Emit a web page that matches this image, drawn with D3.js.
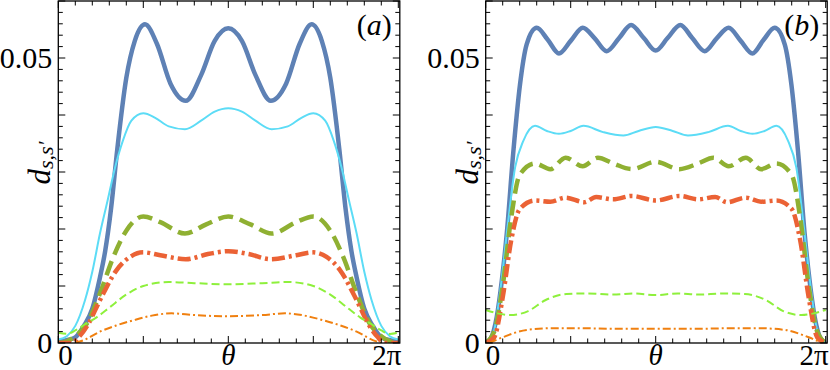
<!DOCTYPE html>
<html>
<head>
<meta charset="utf-8">
<script src="https://cdn.jsdelivr.net/npm/d3@7"></script>
<style>
body { margin: 0; background: #fff; }
</style>
</head>
<body>
<svg id="chart" width="830" height="370"></svg>
<script>
var PI = Math.PI;

// tick labels and panel tags
var yTickValues = [0, 0.05];
var yTickLabels = ['0', '0.05'];
var panelTags = ['a', 'b'];

// curves, points are [theta / pi, d]
var aBlue = [[0,0.0003],[0.05,0.0005],[0.1,0.001],[0.15,0.003],[0.2,0.006],[0.245,0.0115],[0.275,0.016],[0.31,0.0235],[0.347,0.034],[0.4,0.0465],[0.45,0.053],[0.51,0.0559],[0.58,0.0525],[0.66,0.0455],[0.75,0.0425],[0.84,0.047],[0.92,0.053],[1.0,0.0552],[1.08,0.053],[1.16,0.047],[1.25,0.0425],[1.34,0.0455],[1.42,0.0525],[1.49,0.0559],[1.55,0.053],[1.6,0.0465],[1.653,0.034],[1.69,0.0235],[1.725,0.016],[1.755,0.0115],[1.8,0.006],[1.85,0.003],[1.9,0.001],[1.95,0.0005],[2.0,0.0003]];
var aCyan = [[0,0.0006],[0.05,0.0012],[0.1,0.003],[0.157,0.0075],[0.2,0.0125],[0.245,0.0192],[0.29,0.025],[0.334,0.0308],[0.38,0.0355],[0.43,0.039],[0.5,0.0403],[0.57,0.0395],[0.65,0.038],[0.745,0.0375],[0.84,0.039],[0.92,0.0406],[1.0,0.0412],[1.08,0.0406],[1.16,0.039],[1.255,0.0375],[1.35,0.038],[1.43,0.0395],[1.5,0.0403],[1.57,0.039],[1.62,0.0355],[1.666,0.0308],[1.71,0.025],[1.755,0.0192],[1.8,0.0125],[1.843,0.0075],[1.9,0.003],[1.95,0.0012],[2.0,0.0006]];
var aOlive = [[0,0],[0.05,0.0003],[0.1,0.0012],[0.17,0.0035],[0.245,0.0087],[0.324,0.0151],[0.402,0.0198],[0.5,0.0222],[0.6,0.0212],[0.745,0.0192],[0.87,0.0208],[1.0,0.0222],[1.13,0.0208],[1.255,0.0192],[1.4,0.0212],[1.5,0.0222],[1.598,0.0198],[1.676,0.0151],[1.755,0.0087],[1.83,0.0035],[1.9,0.0012],[1.95,0.0003],[2.0,0]];
var aRed = [[0,0],[0.08,0],[0.12,0.001],[0.17,0.003],[0.245,0.0075],[0.343,0.0128],[0.422,0.0151],[0.5,0.0159],[0.6,0.0154],[0.75,0.0147],[0.88,0.0156],[1.0,0.0161],[1.12,0.0156],[1.25,0.0147],[1.4,0.0154],[1.5,0.0159],[1.578,0.0151],[1.657,0.0128],[1.755,0.0075],[1.83,0.003],[1.88,0.001],[1.92,0],[2.0,0]];
var aLgreen = [[0,0.0018],[0.05,0.0016],[0.1,0.0022],[0.147,0.0031],[0.225,0.0045],[0.304,0.0063],[0.4,0.0085],[0.5,0.01],[0.65,0.0107],[0.8,0.0105],[1.0,0.0103],[1.2,0.0105],[1.35,0.0107],[1.5,0.01],[1.6,0.0085],[1.696,0.0063],[1.775,0.0045],[1.853,0.0031],[1.9,0.0022],[1.95,0.0016],[2.0,0.0018]];
var aOrange = [[0.1,0],[0.15,0.0005],[0.245,0.002],[0.343,0.0031],[0.443,0.004],[0.55,0.0048],[0.667,0.0052],[0.8,0.0049],[1.0,0.0047],[1.2,0.0049],[1.333,0.0052],[1.45,0.0048],[1.557,0.004],[1.657,0.0031],[1.755,0.002],[1.85,0.0005],[1.9,0]];

var bBlue = [[0,0],[0.03,0.0008],[0.065,0.0046],[0.095,0.011],[0.124,0.0192],[0.163,0.0337],[0.202,0.0454],[0.241,0.0524],[0.3,0.0553],[0.365,0.0532],[0.431,0.0508],[0.5,0.053],[0.571,0.0553],[0.64,0.0535],[0.712,0.0512],[0.785,0.0535],[0.855,0.0558],[0.93,0.0535],[1.0,0.0513],[1.07,0.0535],[1.145,0.0558],[1.215,0.0535],[1.288,0.0512],[1.36,0.0535],[1.429,0.0553],[1.5,0.053],[1.569,0.0508],[1.635,0.0532],[1.7,0.0553],[1.759,0.0524],[1.798,0.0454],[1.837,0.0337],[1.876,0.0192],[1.905,0.011],[1.935,0.0046],[1.97,0.0008],[2.0,0]];
var bCyan = [[0,0],[0.045,0.0017],[0.085,0.009],[0.124,0.0192],[0.173,0.0308],[0.222,0.0355],[0.29,0.0381],[0.36,0.0372],[0.431,0.0367],[0.5,0.0372],[0.575,0.0381],[0.69,0.037],[0.81,0.0364],[0.9,0.0372],[1.0,0.0379],[1.1,0.0372],[1.19,0.0364],[1.31,0.037],[1.425,0.0381],[1.5,0.0372],[1.569,0.0367],[1.64,0.0372],[1.71,0.0381],[1.778,0.0355],[1.827,0.0308],[1.876,0.0192],[1.915,0.009],[1.955,0.0017],[2.0,0]];
var bOlive = [[0,0],[0.05,0.002],[0.1,0.01],[0.15,0.022],[0.2,0.0295],[0.29,0.0315],[0.38,0.0305],[0.47,0.0325],[0.57,0.031],[0.66,0.0325],[0.75,0.0315],[0.86,0.0305],[1.0,0.0318],[1.14,0.0305],[1.25,0.0315],[1.34,0.0325],[1.43,0.031],[1.53,0.0325],[1.62,0.0305],[1.71,0.0315],[1.8,0.0295],[1.85,0.022],[1.9,0.01],[1.95,0.002],[2.0,0]];
var bRed = [[0,0],[0.05,0.001],[0.1,0.008],[0.15,0.018],[0.2,0.0235],[0.29,0.025],[0.38,0.0248],[0.47,0.0255],[0.58,0.0247],[0.65,0.0256],[0.75,0.0252],[0.86,0.0258],[1.0,0.025],[1.14,0.0258],[1.25,0.0252],[1.35,0.0256],[1.42,0.0247],[1.53,0.0255],[1.62,0.0248],[1.71,0.025],[1.8,0.0235],[1.85,0.018],[1.9,0.008],[1.95,0.001],[2.0,0]];
var bLgreen = [[0,0.0058],[0.07,0.0052],[0.143,0.0049],[0.25,0.0056],[0.35,0.0075],[0.476,0.0086],[0.6,0.0087],[0.75,0.0085],[0.87,0.0087],[1.0,0.0084],[1.13,0.0087],[1.25,0.0085],[1.4,0.0087],[1.524,0.0086],[1.65,0.0075],[1.75,0.0056],[1.857,0.0049],[1.93,0.0052],[2.0,0.0058]];
var bOrange = [[0.02,0],[0.1,0.001],[0.241,0.0023],[0.4,0.0026],[0.535,0.0026],[0.75,0.0025],[1.0,0.0025],[1.25,0.0025],[1.465,0.0026],[1.6,0.0026],[1.759,0.0023],[1.9,0.001],[1.98,0]];

var panelSeries = [
	[aBlue, aCyan, aOlive, aRed, aLgreen, aOrange],
	[bBlue, bCyan, bOlive, bRed, bLgreen, bOrange]
];

var seriesStyles = [
	{color: '#5e81b5', width: 4.5, dash: null},
	{color: '#5cdcf6', width: 2, dash: null},
	{color: '#8fb032', width: 4.5, dash: '15,7'},
	{color: '#eb6235', width: 4.5, dash: '13,4,3,4'},
	{color: '#8ef03c', width: 2, dash: '8,4'},
	{color: '#f08010', width: 2, dash: '8,3,2,3'}
];

var svg = d3.select('#chart');
var serif = 'Liberation Serif';

function drawPanel(i, left){
	var x = d3.scaleLinear().domain([0, 2 * PI]).range([left, left + 340]);
	var y = d3.scaleLinear().domain([0, 0.06]).range([343, 1]);
	var right = x(2 * PI) + 1.5;
	var g = svg.append('g');

	g.append('clipPath').attr('id', 'clip' + i)
		.append('rect')
		.attr('x', left).attr('y', 1)
		.attr('width', right - left).attr('height', 342);

	var line = d3.line()
		.x(function(d){ return x(d[0] * PI); })
		.y(function(d){ return y(d[1]); })
		.curve(d3.curveMonotoneX);

	var curves = g.append('g').attr('clip-path', 'url(#clip' + i + ')');
	panelSeries[i].forEach(function(s, k){
		var st = seriesStyles[k];
		curves.append('path')
			.attr('d', line(s))
			.attr('fill', 'none')
			.attr('stroke', st.color)
			.attr('stroke-width', st.width)
			.attr('stroke-dasharray', st.dash)
			.attr('stroke-linejoin', 'round');
	});

	// inward ticks on all four sides
	var xMinor = d3.range(0, 21).map(function(k){ return k * PI / 10; });
	var yMinor = d3.range(0, 31).map(function(k){ return k * 0.002; });
	var ticks = g.append('g').attr('stroke', '#000').attr('stroke-width', 1);
	xMinor.forEach(function(v, k){
		var len = (k % 5 == 0) ? 7 : 4.5;
		ticks.append('line').attr('x1', x(v)).attr('x2', x(v)).attr('y1', 343).attr('y2', 343 - len);
		ticks.append('line').attr('x1', x(v)).attr('x2', x(v)).attr('y1', 1).attr('y2', 1 + len);
	});
	yMinor.forEach(function(v, k){
		var len = (k % 5 == 0) ? 7 : 4.5;
		ticks.append('line').attr('x1', left).attr('x2', left + len).attr('y1', y(v)).attr('y2', y(v));
		ticks.append('line').attr('x1', right).attr('x2', right - len).attr('y1', y(v)).attr('y2', y(v));
	});

	g.append('rect')
		.attr('x', left).attr('y', 1)
		.attr('width', right - left).attr('height', 342)
		.attr('fill', 'none').attr('stroke', '#000').attr('stroke-width', 1.3);

	yTickValues.forEach(function(v, k){
		g.append('text')
			.attr('x', left - 6).attr('y', y(v)).attr('dy', '0.33em')
			.attr('font-family', serif)
			.attr('text-anchor', 'end').attr('font-size', 30)
			.text(yTickLabels[k]);
	});

	g.append('text').attr('x', x(0)).attr('y', 365).attr('font-family', serif)
		.attr('text-anchor', 'start').attr('font-size', 29).text('0');
	g.append('text').attr('x', x(PI)).attr('y', 365).attr('font-family', serif)
		.attr('text-anchor', 'middle').attr('font-size', 29)
		.attr('font-style', 'italic').text('\u03b8');
	g.append('text').attr('x', right + 1.5).attr('y', 365).attr('font-family', serif)
		.attr('text-anchor', 'end').attr('font-size', 29).text('2\u03c0');

	var lab = g.append('text')
		.attr('transform', 'translate(' + (left - 8) + ',163) rotate(-90)')
		.attr('font-family', serif)
		.attr('text-anchor', 'middle').attr('font-size', 31).attr('font-style', 'italic');
	lab.append('tspan').text('d');
	lab.append('tspan').attr('font-size', 22).attr('dy', 3).text('s,s\u2032');

	var tag = g.append('text').attr('x', right - 8).attr('y', 35)
		.attr('font-family', serif)
		.attr('text-anchor', 'end').attr('font-size', 30);
	tag.append('tspan').text('(');
	tag.append('tspan').attr('font-style', 'italic').text(panelTags[i]);
	tag.append('tspan').text(')');
}

drawPanel(0, 58.3);
drawPanel(1, 485.7);
</script>
</body>
</html>
